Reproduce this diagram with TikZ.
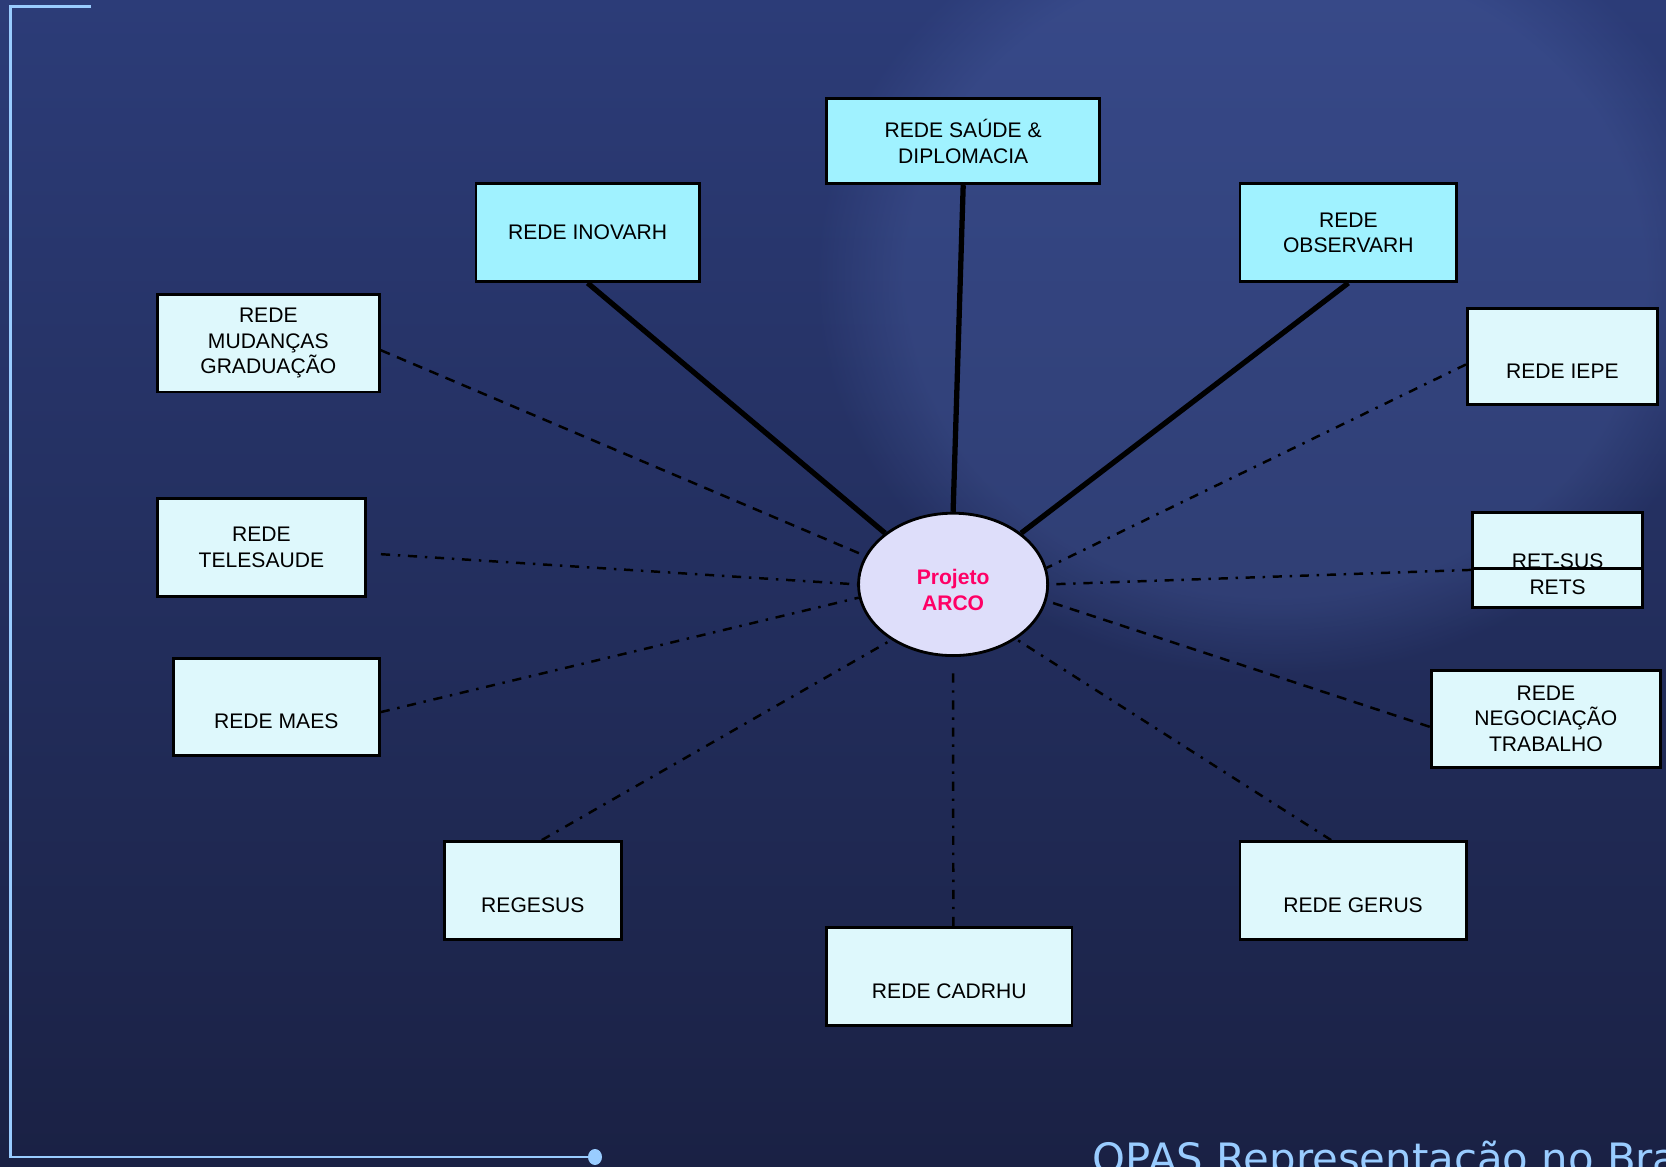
\documentclass[tikz,border=0pt]{standalone}
\usepackage{fontspec}
\setmainfont{Liberation Sans}
\newfontfamily\footfont{DejaVu Sans}
\usepackage{tikz}
\usetikzlibrary{shapes,arrows,positioning,calc,fadings}
\usepackage{xcolor}

\definecolor{bgtop}{RGB}{44,60,120}
\definecolor{bgbottom}{RGB}{26,33,68}
\definecolor{framecol}{RGB}{153,204,255}
\definecolor{cyanbox}{RGB}{160,242,255}
\definecolor{paleboxcol}{RGB}{222,248,252}
\definecolor{arcofill}{RGB}{222,222,250}
\definecolor{arcotext}{RGB}{255,0,102}
\definecolor{coinlight}{RGB}{90,115,190}

\tikzset{
  rede/.style={rectangle, draw=black, line width=0.8pt, fill=paleboxcol, inner sep=0pt, align=center, font=\fontsize{6}{7.3}\selectfont},
  rede_top/.style={rede, fill=cyanbox},
  solid_link/.style={line width=1.5pt},
  dash_link/.style={line width=0.7pt, dash pattern=on 2.8pt off 2.2pt},
  dashdot_link/.style={line width=0.7pt, dash pattern=on 2.6pt off 2.2pt on 0.7pt off 2.2pt},
  frame_line/.style={draw=framecol, line width=0.85pt}
}

\begin{document}
\begin{tikzpicture}
\useasboundingbox (0,0) rectangle (16.66,11.66);
\clip (0,0) rectangle (16.66,11.66);
\shade[top color=bgtop, bottom color=bgbottom] (0,0) rectangle (16.66,11.66);
\fill[coinlight, opacity=0.24, path fading=circle with fuzzy edge 20 percent] (12.75,8.9) ellipse (4.6cm and 4.0cm);

% frame
\coordinate (frame_top) at (0.91,11.597);
\coordinate (frame_corner) at (0.105,11.597);
\coordinate (frame_bottom) at (0.105,0.09);
\coordinate (frame_end) at (5.95,0.09);
\draw[frame_line] (frame_top) -- (frame_corner) -- (frame_bottom) -- (frame_end);
\fill[framecol] (frame_end) ellipse (0.07cm and 0.08cm);
\node[anchor=base west, inner sep=0pt, text=framecol, font=\footfont\fontsize{11.9}{13.5}\selectfont] (opas_footer) at (10.92,-0.07) {OPAS Representação no Brasil};

% centre
\node[ellipse, draw=black, line width=0.8pt, fill=arcofill, minimum width=1.891cm, minimum height=1.424cm, inner sep=0pt, align=center, text=arcotext, font=\fontsize{6}{7.3}\selectfont\bfseries] (projeto_arco) at (9.531,5.816) {\rule{0pt}{7.4pt}Projeto\\ARCO};

% redes
\node[rede_top, minimum width=2.731cm, minimum height=0.850cm] (rede_saude) at (9.632,10.247) {REDE SAÚDE \&\\DIPLOMACIA};
\node[rede_top, minimum width=2.231cm, minimum height=0.978cm] (rede_inovarh) at (5.876,9.333) {REDE INOVARH};
\node[rede_top, minimum width=2.168cm, minimum height=0.978cm] (rede_observarh) at (13.483,9.333) {REDE\\OBSERVARH};
\node[rede, minimum width=2.221cm, minimum height=0.978cm] (rede_mudancas) at (2.683,8.228) {REDE\\MUDANÇAS\\GRADUAÇÃO};
\node[rede, minimum width=1.902cm, minimum height=0.967cm] (rede_iepe) at (15.624,8.095) {\strut\\REDE IEPE};
\node[rede, minimum width=2.083cm, minimum height=0.978cm] (rede_telesaude) at (2.614,6.188) {REDE\\TELESAUDE};
\node[rede, minimum width=1.700cm, minimum height=0.956cm] (ret_sus) at (15.576,6.061) {\strut\\RET-SUS\\RETS};
\draw[line width=0.8pt] ([yshift=-0.085cm]ret_sus.west) -- ([yshift=-0.085cm]ret_sus.east);
\node[rede, minimum width=2.061cm, minimum height=0.967cm] (rede_maes) at (2.763,4.589) {\strut\\REDE MAES};
\node[rede, minimum width=2.295cm, minimum height=0.967cm] (rede_negociacao) at (15.459,4.472) {REDE\\NEGOCIAÇÃO\\TRABALHO};
\node[rede, minimum width=1.774cm, minimum height=0.978cm] (regesus) at (5.328,2.756) {\strut\\REGESUS};
\node[rede, minimum width=2.263cm, minimum height=0.978cm] (rede_gerus) at (13.531,2.756) {\strut\\REDE GERUS};
\node[rede, minimum width=2.454cm, minimum height=0.978cm] (rede_cadrhu) at (9.493,1.896) {\strut\\REDE CADRHU};

% links
\path[solid_link] (rede_inovarh.south) edge (projeto_arco.143);
\path[solid_link] (rede_saude.south) edge (projeto_arco.north);
\path[solid_link] (rede_observarh.south) edge (projeto_arco.37);
\path[dash_link] ([yshift=-0.07cm]rede_mudancas.east) edge (projeto_arco.162);
\path[dash_link] ([yshift=-0.08cm]rede_negociacao.west) edge (projeto_arco.350);
\path[dashdot_link] ([shift={(0.14cm,-0.07cm)}]rede_telesaude.east) edge (projeto_arco.west);
\path[dashdot_link] ([yshift=-0.05cm]rede_maes.east) edge (projeto_arco.188);
\path[dashdot_link] ([xshift=0.09cm]regesus.north) edge (projeto_arco.222);
\path[dashdot_link] ([xshift=0.04cm]rede_cadrhu.north) edge ([yshift=-0.15cm]projeto_arco.south);
\path[dashdot_link] ([xshift=-0.22cm]rede_gerus.north) edge (projeto_arco.319);
\path[dashdot_link] ([yshift=-0.1cm]ret_sus.west) edge (projeto_arco.east);
\path[dashdot_link] ([yshift=-0.08cm]rede_iepe.west) edge (projeto_arco.10);
\end{tikzpicture}
\end{document}
